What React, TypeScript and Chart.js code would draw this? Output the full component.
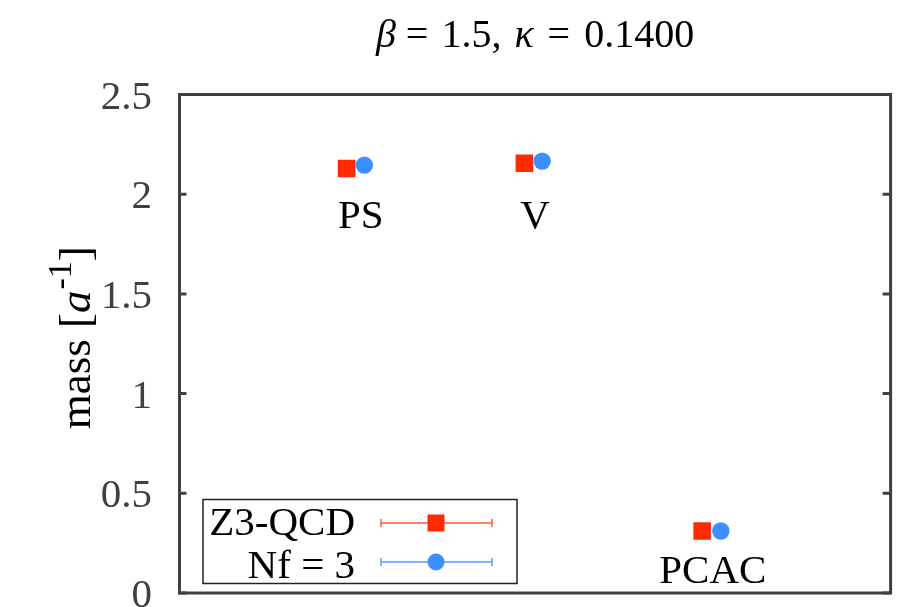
import React, { useEffect, useRef } from "react";
import { Chart, registerables } from "chart.js";
Chart.register(...registerables);

// ---- data ----
const categories = ["PS", "V", "PCAC"];
const z3X = [0.94, 1.94, 2.94];
const z3Mass = [2.129, 2.155, 0.311];
const nfX = [1.04, 2.04, 3.045];
const nfMass = [2.146, 2.166, 0.311];
const labelX = [1.02, 2.0, 3.0];
const labelY = [1.83, 1.83, 0.049];
const yTicks = [0, 0.5, 1, 1.5, 2, 2.5];
const yTickLabels = ["0", "0.5", "1", "1.5", "2", "2.5"];
const seriesNames = ["Z3-QCD", "Nf = 3"];

const RED = "#ff2a00";
const RED_LINE = "#ff5a3c";
const BLUE = "#3d8eff";
const BLUE_LINE = "#5a9cff";
const FRAME = "#404040";
const SERIF = '"Liberation Serif", serif';

type Seg = { t: string; it?: boolean; sup?: boolean; gap?: number };

function drawSegments(ctx: CanvasRenderingContext2D, segs: Seg[], cx: number, y: number, size: number) {
  const fontOf = (s: Seg) => `${s.it ? "italic " : ""}${s.sup ? Math.round(size * 0.75) : size}px ${SERIF}`;
  let total = 0;
  const widths = segs.map((s) => {
    ctx.font = fontOf(s);
    const w = ctx.measureText(s.t).width + (s.gap || 0);
    total += w;
    return w;
  });
  let x = cx - total / 2;
  ctx.textAlign = "left";
  ctx.textBaseline = "alphabetic";
  segs.forEach((s, i) => {
    ctx.font = fontOf(s);
    ctx.fillText(s.t, x, s.sup ? y - size * 0.42 : y);
    x += widths[i];
  });
}

const decorPlugin = {
  id: "decor",
  afterDatasetsDraw(chart: any) {
    const ctx: CanvasRenderingContext2D = chart.ctx;
    const { left, right, top, bottom } = chart.chartArea;
    const xs = chart.scales.x;
    const ys = chart.scales.y;
    ctx.save();
    // frame
    ctx.strokeStyle = FRAME;
    ctx.lineWidth = 3;
    ctx.lineJoin = "miter";
    ctx.strokeRect(left, top, right - left, bottom - top);
    // ticks
    yTicks.forEach((v) => {
      const y = ys.getPixelForValue(v);
      ctx.beginPath();
      ctx.moveTo(left, y);
      ctx.lineTo(left + 7, y);
      ctx.moveTo(right, y);
      ctx.lineTo(right - 8, y);
      ctx.stroke();
    });
    // tick labels
    ctx.fillStyle = "#404040";
    ctx.font = `41px ${SERIF}`;
    ctx.textAlign = "right";
    ctx.textBaseline = "alphabetic";
    yTicks.forEach((v, i) => {
      ctx.fillText(yTickLabels[i], 152, ys.getPixelForValue(v) + 14);
    });
    // category labels
    ctx.fillStyle = "#000";
    ctx.font = `41px ${SERIF}`;
    ctx.textAlign = "center";
    ctx.textBaseline = "alphabetic";
    categories.forEach((c, i) => {
      ctx.fillText(c, xs.getPixelForValue(labelX[i]), ys.getPixelForValue(labelY[i]));
    });
    // title
    drawSegments(
      ctx,
      [
        { t: "β", it: true, gap: 10 },
        { t: "=", gap: 13 },
        { t: "1.5,", gap: 13 },
        { t: "κ", it: true, gap: 14 },
        { t: "=", gap: 14 },
        { t: "0.1400" },
      ],
      (left + right) / 2,
      47,
      40
    );
    // y axis label
    ctx.save();
    ctx.translate(90, (top + bottom) / 2 - 6);
    ctx.rotate(-Math.PI / 2);
    drawSegments(ctx, [{ t: "mass [" }, { t: "a", it: true, gap: 1 }, { t: "-1", sup: true }, { t: "]" }], 0, 0, 45);
    ctx.restore();
    // legend
    const bx = left + 23.5, by = 499.5, bw = 314, bh = 84;
    ctx.fillStyle = "#fff";
    ctx.fillRect(bx, by, bw, bh);
    ctx.strokeStyle = "#222";
    ctx.lineWidth = 1.5;
    ctx.strokeRect(bx, by, bw, bh);
    const rows = [
      { name: seriesNames[0], y: by + 23.5, base: by + 35.5, line: RED_LINE, col: RED, sq: true },
      { name: seriesNames[1], y: by + 62.5, base: by + 78, line: BLUE_LINE, col: BLUE, sq: false },
    ];
    rows.forEach((r) => {
      ctx.fillStyle = "#000";
      ctx.font = `41px ${SERIF}`;
      ctx.textAlign = "right";
      ctx.textBaseline = "alphabetic";
      ctx.fillText(r.name, 355, r.base);
      ctx.strokeStyle = r.line;
      ctx.lineWidth = 1.5;
      ctx.beginPath();
      ctx.moveTo(381, r.y);
      ctx.lineTo(492, r.y);
      ctx.moveTo(381, r.y - 4);
      ctx.lineTo(381, r.y + 4);
      ctx.moveTo(492, r.y - 4);
      ctx.lineTo(492, r.y + 4);
      ctx.stroke();
      ctx.fillStyle = r.col;
      if (r.sq) {
        ctx.fillRect(436 - 8.5, r.y - 8.5, 17, 17);
      } else {
        ctx.beginPath();
        ctx.arc(436, r.y, 8.5, 0, Math.PI * 2);
        ctx.fill();
      }
    });
    ctx.restore();
  },
};

export default function App() {
  const ref = useRef<HTMLCanvasElement>(null);
  useEffect(() => {
    if (!ref.current) return;
    const chart = new Chart(ref.current, {
      type: "scatter",
      data: {
        datasets: [
          {
            label: seriesNames[0],
            data: z3X.map((x, i) => ({ x, y: z3Mass[i] })),
            pointStyle: "rect",
            pointRadius: 12.4,
            pointBorderWidth: 0,
            backgroundColor: RED,
            borderColor: RED,
          },
          {
            label: seriesNames[1],
            data: nfX.map((x, i) => ({ x, y: nfMass[i] })),
            pointStyle: "circle",
            pointRadius: 8.7,
            pointBorderWidth: 0,
            backgroundColor: BLUE,
            borderColor: BLUE,
          },
        ],
      },
      options: {
        responsive: false,
        animation: false,
        layout: { padding: { left: 179.5, right: 11.5, top: 94.5, bottom: 14 } },
        plugins: { legend: { display: false }, tooltip: { enabled: false }, title: { display: false } },
        scales: {
          x: { type: "linear", min: 0, max: 4, display: false },
          y: { type: "linear", min: 0, max: 2.5, display: false },
        },
      },
      plugins: [decorPlugin],
    });
    return () => chart.destroy();
  }, []);
  return (
    <div style={{ position: "fixed", left: 0, top: 0, width: 903, height: 607, background: "#fff" }}>
      <canvas ref={ref} width={903} height={607} style={{ display: "block" }} />
    </div>
  );
}
